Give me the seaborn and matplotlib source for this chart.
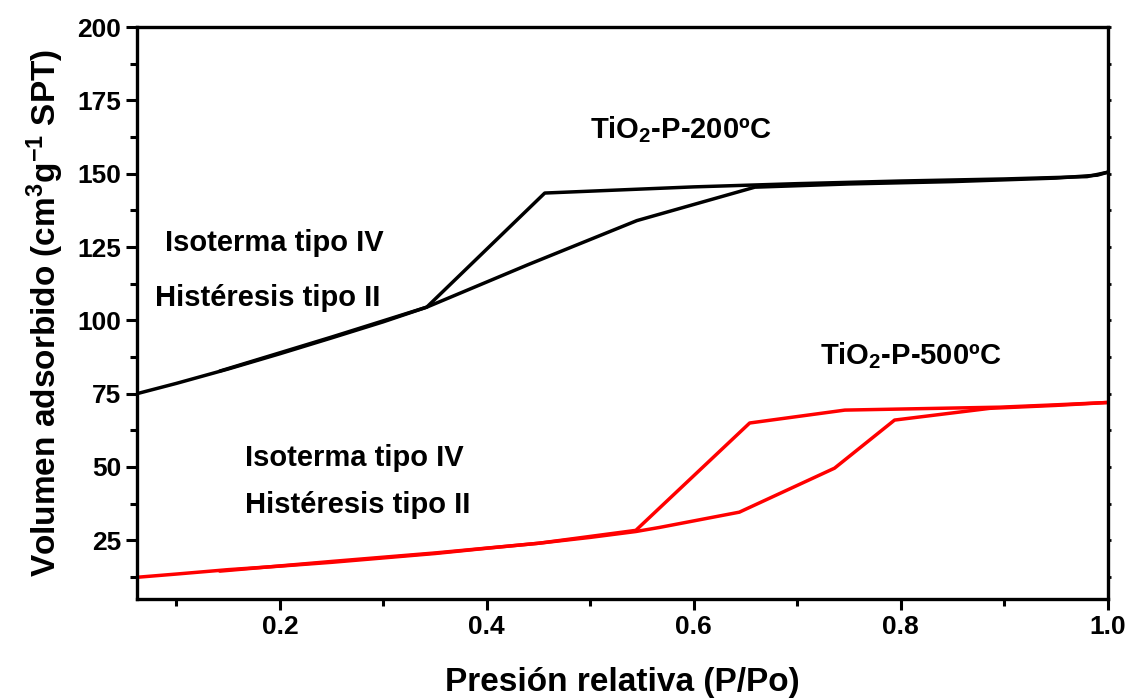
import matplotlib
matplotlib.use("Agg")
import matplotlib.pyplot as plt
from matplotlib.ticker import MultipleLocator, FormatStrFormatter
import seaborn as sns
import pandas as pd

# TiO2-P-200ºC (black)
ads200_x = [0.062, 0.10, 0.15, 0.20, 0.25, 0.30, 0.342, 0.44, 0.545, 0.659, 0.75, 0.85, 0.95, 0.99, 1.0]
ads200_y = [75.0, 78.5, 83.4, 88.6, 94.0, 99.5, 104.5, 119.0, 134.0, 145.4, 146.5, 147.3, 148.5, 149.5, 150.5]
des200_x = [1.0, 0.98, 0.90, 0.80, 0.70, 0.60, 0.456, 0.342, 0.25, 0.142]
des200_y = [150.5, 149.0, 148.2, 147.5, 146.6, 145.5, 143.4, 104.5, 94.3, 82.7]

# TiO2-P-500ºC (red)
ads500_x = [0.062, 0.10, 0.15, 0.20, 0.25, 0.30, 0.35, 0.40, 0.45, 0.50, 0.544, 0.567, 0.644, 0.736, 0.794, 0.886, 0.95, 1.0]
ads500_y = [12.4, 13.5, 15.0, 16.2, 17.5, 19.0, 20.5, 22.3, 24.0, 26.0, 28.0, 29.4, 34.6, 49.6, 66.0, 70.0, 71.0, 72.0]
des500_x = [1.0, 0.95, 0.896, 0.746, 0.654, 0.544, 0.45, 0.35, 0.25, 0.142]
des500_y = [72.0, 71.2, 70.4, 69.4, 65.0, 28.4, 24.0, 20.7, 17.8, 14.5]

sns.set_style("ticks")
plt.rcParams["font.family"] = ["Liberation Sans", "DejaVu Sans"]
plt.rcParams["font.weight"] = "bold"
plt.rcParams["mathtext.default"] = "regular"
plt.rcParams["text.color"] = "black"
plt.rcParams["axes.labelcolor"] = "black"
plt.rcParams["xtick.color"] = "black"
plt.rcParams["ytick.color"] = "black"
plt.rcParams["axes.edgecolor"] = "black"

fig = plt.figure(figsize=(11.35, 7.0), dpi=100)
ax = fig.add_axes([0.1207, 0.1443, 0.976 - 0.1207, 0.9614 - 0.1443])

lw = 2.5
for xs, ys, c in [(ads200_x, ads200_y, "black"), (des200_x, des200_y, "black"),
                  (ads500_x, ads500_y, "#ff0000"), (des500_x, des500_y, "#ff0000")]:
    df = pd.DataFrame({"x": xs, "y": ys})
    sns.lineplot(data=df, x="x", y="y", sort=False, estimator=None, color=c, lw=lw, ax=ax)

ax.set_xlim(0.062, 1.0)
ax.set_ylim(5, 200)
ax.xaxis.set_major_locator(MultipleLocator(0.2))
ax.xaxis.set_minor_locator(MultipleLocator(0.1))
ax.yaxis.set_major_locator(MultipleLocator(25))
ax.yaxis.set_minor_locator(MultipleLocator(12.5))
ax.set_yticks([25, 50, 75, 100, 125, 150, 175, 200])
ax.xaxis.set_major_formatter(FormatStrFormatter("%.1f"))

for s in ax.spines.values():
    s.set_linewidth(2.4)
    s.set_visible(True)
    s.set_color("black")
ax.tick_params(which="major", direction="out", length=8, width=2.2, labelsize=19, colors="black")
ax.tick_params(which="minor", direction="out", length=5, width=2.2)
ax.tick_params(axis="y", which="both", right=False, labelright=False)

# tiny ticks on the right spine
ax2 = ax.twinx()
ax2.set_ylim(ax.get_ylim())
ax2.yaxis.set_major_locator(MultipleLocator(12.5))
ax2.tick_params(axis="y", which="major", direction="out", length=2, width=2, labelright=False)
ax2.tick_params(axis="y", which="minor", length=0)
for s in ax2.spines.values():
    s.set_visible(False)
ax2.set_ylabel("")

for lab in ax.get_xticklabels() + ax.get_yticklabels():
    lab.set_fontweight("bold")

ax.set_xlabel("Presión relativa (P/Po)", fontsize=24, fontweight="bold", labelpad=20)
ax.set_ylabel(r"Volumen adsorbido (cm$^3$g$^{-1}$ SPT)", fontsize=24, fontweight="bold", labelpad=8)

fs = 21
ax.text(0.50, 165, r"TiO$_2$-P-200ºC", fontsize=fs, fontweight="bold", va="center")
ax.text(0.089, 126.3, "Isoterma tipo IV", fontsize=fs, fontweight="bold", va="center")
ax.text(0.079, 107.6, "Histéresis tipo II", fontsize=fs, fontweight="bold", va="center")
ax.text(0.722, 88, r"TiO$_2$-P-500ºC", fontsize=fs, fontweight="bold", va="center")
ax.text(0.166, 53, "Isoterma tipo IV", fontsize=fs, fontweight="bold", va="center")
ax.text(0.166, 37, "Histéresis tipo II", fontsize=fs, fontweight="bold", va="center")

fig.savefig("out.png", dpi=100)
